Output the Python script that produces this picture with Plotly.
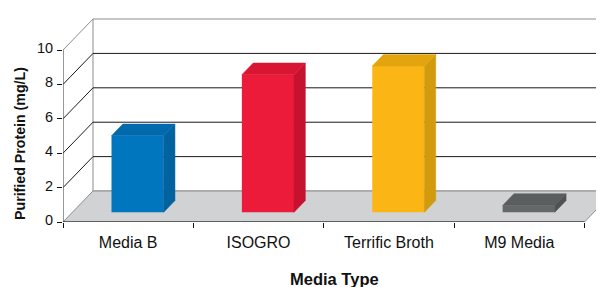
import plotly.graph_objects as go

categories = ["Media B", "ISOGRO", "Terrific Broth", "M9 Media"]
values = [4.45, 8.0, 8.5, 0.4]
front_colors = ["#0076BF", "#ED1B3A", "#FBB616", "#646868"]
side_colors = ["#00629F", "#C6112F", "#D29A0D", "#4E5252"]
top_colors = ["#006AAD", "#D81633", "#E3A50F", "#5A5E5E"]
y_ticks = [0, 2, 4, 6, 8, 10]
y_max = 10

# oblique depth vector in data units
DX, DY = 0.2301, 1.802
F0, FD = 0.313, 0.377   # bar front depth fraction, bar depth fraction
W = 0.4
n = len(categories)
xl, xr = -0.5, n - 0.5

# figure geometry (page body adds an 8px offset)
FIG_W, FIG_H = 596, 279
ML, MB = 55, 65
PW, PH = FIG_W - ML, FIG_H - MB
PX_PER_CAT = 130.375
PX_PER_UNIT = 17.2

fig = go.Figure()

shapes = []
wall_line = dict(color="#8C8C8C", width=1)
# back wall
shapes.append(dict(type="rect", xref="x", yref="y", x0=xl + DX, x1=xr + DX, y0=DY, y1=y_max + DY,
                   fillcolor="white", line=wall_line, layer="below"))
# back wall gridlines and left wall diagonals
for t in y_ticks[1:-1]:
    shapes.append(dict(type="line", xref="x", yref="y", x0=xl + DX, x1=xr + DX, y0=t + DY, y1=t + DY,
                       line=dict(color="#1A1A1A", width=1), layer="below"))
    shapes.append(dict(type="line", xref="x", yref="y", x0=xl, x1=xl + DX, y0=t, y1=t + DY,
                       line=dict(color="#1A1A1A", width=1), layer="below"))
shapes.append(dict(type="line", xref="x", yref="y", x0=xl, x1=xl + DX, y0=y_max, y1=y_max + DY,
                   line=wall_line, layer="below"))
# floor
shapes.append(dict(type="path", xref="x", yref="y",
                   path=f"M {xl},0 L {xr},0 L {xr + DX},{DY} L {xl + DX},{DY} Z",
                   fillcolor="#D1D2D4", line=wall_line, layer="below"))
# front axis lines
shapes.append(dict(type="line", xref="x", yref="y", x0=xl, x1=xl, y0=0, y1=y_max,
                   line=dict(color="#333333", width=1), layer="below"))
shapes.append(dict(type="line", xref="x", yref="y", x0=xl, x1=xr, y0=0, y1=0,
                   line=dict(color="#111111", width=1), layer="below"))

base = F0 * DY
for i, v in enumerate(values):
    cx = i + F0 * DX
    x0, x1 = cx - W / 2, cx + W / 2
    ddx, ddy = FD * DX, FD * DY
    # side face
    fig.add_trace(go.Scatter(
        x=[x1, x1 + ddx, x1 + ddx, x1, x1], y=[base, base + ddy, base + v + ddy, base + v, base],
        fill="toself", fillcolor=side_colors[i], mode="lines", line=dict(width=0.5, color=side_colors[i]),
        hoverinfo="skip", showlegend=False))
    # top face
    fig.add_trace(go.Scatter(
        x=[x0, x1, x1 + ddx, x0 + ddx, x0], y=[base + v, base + v, base + v + ddy, base + v + ddy, base + v],
        fill="toself", fillcolor=top_colors[i], mode="lines", line=dict(width=0.5, color=top_colors[i]),
        hoverinfo="skip", showlegend=False))

fig.add_trace(go.Bar(
    x=[i + F0 * DX for i in range(n)], y=values, base=base, width=W,
    marker=dict(color=front_colors, line=dict(width=0)), showlegend=False))

font_family = "Liberation Sans, Arial, sans-serif"
fig.update_layout(
    template="none",
    width=FIG_W, height=FIG_H,
    margin=dict(l=ML, r=0, t=0, b=MB, pad=0, autoexpand=False),
    paper_bgcolor="white", plot_bgcolor="white",
    shapes=shapes,
    showlegend=False,
    xaxis=dict(range=[xl, xl + PW / PX_PER_CAT], showgrid=False, zeroline=False, showline=False,
               automargin=False,
               tickvals=list(range(n)), ticktext=categories, ticks="", ticklen=0,
               ticklabelstandoff=9,
               tickfont=dict(family=font_family, size=16, color="#111111"),
               minor=dict(tickvals=[k - 0.5 for k in range(n + 1)], ticks="outside", ticklen=5,
                          tickcolor="#111111", tickwidth=1, showgrid=False),
               fixedrange=True),
    yaxis=dict(range=[0, PH / PX_PER_UNIT], showgrid=False, zeroline=False, showline=False,
               automargin=False,
               tickvals=y_ticks, ticks="outside", ticklen=5, tickcolor="#111111",
               ticklabelshift=-2, ticklabelstandoff=1,
               tickfont=dict(family=font_family, size=14.5, color="#111111"), fixedrange=True),
    annotations=[
        dict(text="<b>Purified Protein (mg/L)</b>", xref="paper", yref="paper",
             x=(12.5 - ML) / PW, y=(PH - 135.5) / PH, textangle=-90, showarrow=False,
             xanchor="center", yanchor="middle", font=dict(family=font_family, size=14.2, color="#111111")),
        dict(text="<b>Media Type</b>", xref="paper", yref="paper",
             x=(326 - ML) / PW, y=-(271 - PH) / PH, showarrow=False,
             xanchor="center", yanchor="middle", font=dict(family=font_family, size=16.5, color="#111111")),
    ],
)

fig.write_html("out.html")
